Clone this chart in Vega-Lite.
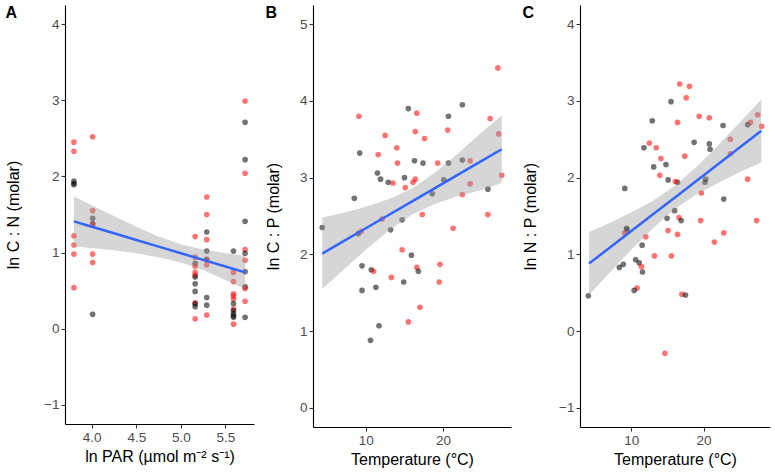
{
"$schema": "https://vega.github.io/schema/vega-lite/v6.json",
"padding": {"left": 5, "top": 5, "right": 3, "bottom": 0},
"spacing": 11,
"datasets": {
"pts": [
{"p":"A","x":3.8,"y":2.45,"g":"red"},{"p":"A","x":3.8,"y":2.33,"g":"red"},{"p":"A","x":3.8,"y":1.94,"g":"black"},{"p":"A","x":3.8,"y":1.91,"g":"black"},{"p":"A","x":3.8,"y":1.89,"g":"black"},{"p":"A","x":3.8,"y":1.22,"g":"red"},{"p":"A","x":3.8,"y":1.10,"g":"red"},{"p":"A","x":3.8,"y":0.98,"g":"red"},{"p":"A","x":3.8,"y":0.54,"g":"red"},
{"p":"A","x":4.01,"y":2.52,"g":"red"},{"p":"A","x":4.01,"y":1.55,"g":"red"},{"p":"A","x":4.01,"y":1.45,"g":"black"},{"p":"A","x":4.01,"y":1.38,"g":"black"},{"p":"A","x":4.01,"y":1.37,"g":"red"},{"p":"A","x":4.01,"y":0.98,"g":"red"},{"p":"A","x":4.01,"y":0.87,"g":"red"},{"p":"A","x":4.01,"y":0.19,"g":"black"},
{"p":"A","x":5.16,"y":1.21,"g":"red"},{"p":"A","x":5.16,"y":0.94,"g":"red"},{"p":"A","x":5.16,"y":0.86,"g":"black"},{"p":"A","x":5.16,"y":0.82,"g":"red"},{"p":"A","x":5.16,"y":0.74,"g":"red"},{"p":"A","x":5.16,"y":0.70,"g":"red"},{"p":"A","x":5.16,"y":0.68,"g":"black"},{"p":"A","x":5.16,"y":0.59,"g":"black"},{"p":"A","x":5.16,"y":0.49,"g":"black"},{"p":"A","x":5.16,"y":0.34,"g":"red"},{"p":"A","x":5.16,"y":0.33,"g":"black"},{"p":"A","x":5.16,"y":0.29,"g":"black"},{"p":"A","x":5.16,"y":0.13,"g":"red"},
{"p":"A","x":5.29,"y":1.73,"g":"red"},{"p":"A","x":5.29,"y":1.50,"g":"red"},{"p":"A","x":5.29,"y":1.27,"g":"black"},{"p":"A","x":5.29,"y":1.17,"g":"red"},{"p":"A","x":5.29,"y":1.02,"g":"black"},{"p":"A","x":5.29,"y":0.91,"g":"black"},{"p":"A","x":5.29,"y":0.90,"g":"red"},{"p":"A","x":5.29,"y":0.84,"g":"red"},{"p":"A","x":5.29,"y":0.41,"g":"black"},{"p":"A","x":5.29,"y":0.31,"g":"black"},{"p":"A","x":5.29,"y":0.18,"g":"red"},
{"p":"A","x":5.59,"y":1.02,"g":"black"},{"p":"A","x":5.59,"y":0.74,"g":"red"},{"p":"A","x":5.59,"y":0.62,"g":"red"},{"p":"A","x":5.59,"y":0.46,"g":"red"},{"p":"A","x":5.59,"y":0.43,"g":"red"},{"p":"A","x":5.59,"y":0.39,"g":"red"},{"p":"A","x":5.59,"y":0.33,"g":"black"},{"p":"A","x":5.59,"y":0.26,"g":"red"},{"p":"A","x":5.59,"y":0.24,"g":"black"},{"p":"A","x":5.59,"y":0.20,"g":"black"},{"p":"A","x":5.59,"y":0.17,"g":"black"},{"p":"A","x":5.59,"y":0.15,"g":"black"},{"p":"A","x":5.59,"y":0.06,"g":"red"},
{"p":"A","x":5.72,"y":2.99,"g":"red"},{"p":"A","x":5.72,"y":2.71,"g":"black"},{"p":"A","x":5.72,"y":2.22,"g":"black"},{"p":"A","x":5.72,"y":2.04,"g":"red"},{"p":"A","x":5.72,"y":1.41,"g":"black"},{"p":"A","x":5.72,"y":1.04,"g":"red"},{"p":"A","x":5.72,"y":0.99,"g":"black"},{"p":"A","x":5.72,"y":0.90,"g":"red"},{"p":"A","x":5.72,"y":0.75,"g":"black"},{"p":"A","x":5.72,"y":0.55,"g":"black"},{"p":"A","x":5.72,"y":0.53,"g":"red"},{"p":"A","x":5.72,"y":0.36,"g":"red"},{"p":"A","x":5.72,"y":0.15,"g":"black"},
{"p":"B","x":4.35,"y":2.35,"g":"black"},{"p":"B","x":27.1,"y":4.43,"g":"red"},{"p":"B","x":15.5,"y":3.90,"g":"black"},{"p":"B","x":16.6,"y":3.84,"g":"red"},{"p":"B","x":22.5,"y":3.95,"g":"black"},{"p":"B","x":9.1,"y":3.80,"g":"red"},{"p":"B","x":20.7,"y":3.80,"g":"black"},{"p":"B","x":26.1,"y":3.77,"g":"red"},{"p":"B","x":12.5,"y":3.55,"g":"red"},{"p":"B","x":16.4,"y":3.60,"g":"red"},{"p":"B","x":20.6,"y":3.62,"g":"red"},{"p":"B","x":17.6,"y":3.51,"g":"red"},{"p":"B","x":27.2,"y":3.57,"g":"red"},{"p":"B","x":14.0,"y":3.39,"g":"red"},{"p":"B","x":9.2,"y":3.32,"g":"black"},{"p":"B","x":11.6,"y":3.30,"g":"red"},{"p":"B","x":14.1,"y":3.19,"g":"red"},{"p":"B","x":16.3,"y":3.22,"g":"black"},{"p":"B","x":17.4,"y":3.19,"g":"black"},{"p":"B","x":19.3,"y":3.19,"g":"red"},{"p":"B","x":20.7,"y":3.19,"g":"black"},{"p":"B","x":22.5,"y":3.23,"g":"black"},{"p":"B","x":23.5,"y":3.22,"g":"red"},{"p":"B","x":27.6,"y":3.03,"g":"red"},{"p":"B","x":11.5,"y":3.06,"g":"black"},{"p":"B","x":11.9,"y":2.98,"g":"black"},{"p":"B","x":12.9,"y":2.94,"g":"black"},{"p":"B","x":13.5,"y":2.93,"g":"red"},{"p":"B","x":15.0,"y":3.00,"g":"black"},{"p":"B","x":15.1,"y":2.87,"g":"red"},{"p":"B","x":16.1,"y":2.94,"g":"red"},{"p":"B","x":16.4,"y":2.98,"g":"red"},{"p":"B","x":20.1,"y":2.97,"g":"black"},{"p":"B","x":18.6,"y":2.79,"g":"black"},{"p":"B","x":22.5,"y":2.78,"g":"red"},{"p":"B","x":23.5,"y":2.92,"g":"red"},{"p":"B","x":25.8,"y":2.85,"g":"black"},{"p":"B","x":8.5,"y":2.73,"g":"black"},{"p":"B","x":17.3,"y":2.52,"g":"red"},{"p":"B","x":25.8,"y":2.52,"g":"red"},{"p":"B","x":12.1,"y":2.46,"g":"red"},{"p":"B","x":14.7,"y":2.45,"g":"black"},{"p":"B","x":21.3,"y":2.34,"g":"red"},{"p":"B","x":13.2,"y":2.32,"g":"black"},{"p":"B","x":9.0,"y":2.27,"g":"black"},{"p":"B","x":9.4,"y":2.30,"g":"red"},{"p":"B","x":14.7,"y":2.06,"g":"red"},{"p":"B","x":15.9,"y":1.99,"g":"black"},{"p":"B","x":9.5,"y":1.85,"g":"black"},{"p":"B","x":10.7,"y":1.80,"g":"black"},{"p":"B","x":11.0,"y":1.78,"g":"red"},{"p":"B","x":16.6,"y":1.83,"g":"red"},{"p":"B","x":16.8,"y":1.78,"g":"black"},{"p":"B","x":19.6,"y":1.87,"g":"red"},{"p":"B","x":13.3,"y":1.70,"g":"red"},{"p":"B","x":14.9,"y":1.64,"g":"black"},{"p":"B","x":19.5,"y":1.64,"g":"red"},{"p":"B","x":9.5,"y":1.53,"g":"black"},{"p":"B","x":11.3,"y":1.57,"g":"black"},{"p":"B","x":17.0,"y":1.31,"g":"red"},{"p":"B","x":15.5,"y":1.12,"g":"red"},{"p":"B","x":11.7,"y":1.07,"g":"black"},{"p":"B","x":10.6,"y":0.88,"g":"black"},
{"p":"C","x":16.7,"y":3.22,"g":"red"},{"p":"C","x":18.05,"y":3.19,"g":"red"},{"p":"C","x":17.6,"y":3.04,"g":"red"},{"p":"C","x":15.5,"y":2.99,"g":"black"},{"p":"C","x":12.9,"y":2.74,"g":"black"},{"p":"C","x":16.4,"y":2.72,"g":"red"},{"p":"C","x":19.4,"y":2.80,"g":"red"},{"p":"C","x":20.8,"y":2.78,"g":"red"},{"p":"C","x":22.7,"y":2.68,"g":"black"},{"p":"C","x":26.1,"y":2.69,"g":"black"},{"p":"C","x":26.5,"y":2.72,"g":"red"},{"p":"C","x":27.5,"y":2.82,"g":"red"},{"p":"C","x":28.05,"y":2.67,"g":"red"},{"p":"C","x":11.75,"y":2.39,"g":"black"},{"p":"C","x":12.5,"y":2.45,"g":"red"},{"p":"C","x":13.45,"y":2.39,"g":"red"},{"p":"C","x":14.1,"y":2.25,"g":"red"},{"p":"C","x":13.1,"y":2.14,"g":"black"},{"p":"C","x":14.8,"y":2.17,"g":"black"},{"p":"C","x":13.95,"y":2.03,"g":"red"},{"p":"C","x":15.1,"y":1.97,"g":"black"},{"p":"C","x":16.4,"y":1.94,"g":"black"},{"p":"C","x":16.1,"y":1.95,"g":"red"},{"p":"C","x":17.4,"y":2.28,"g":"red"},{"p":"C","x":20.8,"y":2.44,"g":"black"},{"p":"C","x":20.9,"y":2.37,"g":"black"},{"p":"C","x":18.7,"y":2.46,"g":"black"},{"p":"C","x":23.7,"y":2.50,"g":"red"},{"p":"C","x":23.7,"y":2.31,"g":"red"},{"p":"C","x":20.2,"y":1.94,"g":"black"},{"p":"C","x":20.3,"y":1.98,"g":"black"},{"p":"C","x":26.1,"y":1.98,"g":"red"},{"p":"C","x":19.7,"y":1.80,"g":"red"},{"p":"C","x":22.8,"y":1.72,"g":"black"},{"p":"C","x":9.1,"y":1.86,"g":"black"},{"p":"C","x":16.0,"y":1.57,"g":"black"},{"p":"C","x":14.95,"y":1.47,"g":"black"},{"p":"C","x":16.6,"y":1.48,"g":"red"},{"p":"C","x":16.9,"y":1.44,"g":"black"},{"p":"C","x":19.6,"y":1.44,"g":"red"},{"p":"C","x":27.35,"y":1.44,"g":"red"},{"p":"C","x":9.35,"y":1.34,"g":"black"},{"p":"C","x":9.4,"y":1.32,"g":"black"},{"p":"C","x":9.1,"y":1.28,"g":"red"},{"p":"C","x":15.1,"y":1.31,"g":"red"},{"p":"C","x":16.4,"y":1.26,"g":"red"},{"p":"C","x":22.8,"y":1.28,"g":"red"},{"p":"C","x":12.0,"y":1.23,"g":"red"},{"p":"C","x":21.5,"y":1.16,"g":"red"},{"p":"C","x":11.5,"y":1.12,"g":"black"},{"p":"C","x":13.2,"y":0.98,"g":"red"},{"p":"C","x":15.55,"y":0.98,"g":"red"},{"p":"C","x":8.35,"y":0.83,"g":"black"},{"p":"C","x":8.9,"y":0.87,"g":"black"},{"p":"C","x":10.6,"y":0.93,"g":"black"},{"p":"C","x":11.1,"y":0.89,"g":"black"},{"p":"C","x":11.4,"y":0.84,"g":"red"},{"p":"C","x":11.55,"y":0.77,"g":"black"},{"p":"C","x":10.8,"y":0.56,"g":"red"},{"p":"C","x":10.4,"y":0.53,"g":"black"},{"p":"C","x":17.0,"y":0.48,"g":"red"},{"p":"C","x":17.5,"y":0.47,"g":"black"},{"p":"C","x":4.05,"y":0.46,"g":"black"},{"p":"C","x":14.65,"y":-0.29,"g":"red"}
],
"fit": [
{"p":"A","x":3.8,"fit":1.41,"lo":1.08,"hi":1.74},{"p":"A","x":4.0,"fit":1.34,"lo":1.06,"hi":1.62},{"p":"A","x":4.25,"fit":1.253,"lo":1.03,"hi":1.48},{"p":"A","x":4.5,"fit":1.166,"lo":0.99,"hi":1.34},{"p":"A","x":4.75,"fit":1.078,"lo":0.94,"hi":1.21},{"p":"A","x":5.0,"fit":0.991,"lo":0.87,"hi":1.11},{"p":"A","x":5.25,"fit":0.904,"lo":0.77,"hi":1.04},{"p":"A","x":5.5,"fit":0.817,"lo":0.64,"hi":0.99},{"p":"A","x":5.72,"fit":0.74,"lo":0.52,"hi":0.96},
{"p":"B","x":4.35,"fit":2.01,"lo":1.55,"hi":2.48},{"p":"B","x":7,"fit":2.165,"lo":1.79,"hi":2.54},{"p":"B","x":10,"fit":2.34,"lo":2.06,"hi":2.62},{"p":"B","x":13,"fit":2.516,"lo":2.31,"hi":2.72},{"p":"B","x":16,"fit":2.691,"lo":2.52,"hi":2.86},{"p":"B","x":19,"fit":2.867,"lo":2.66,"hi":3.07},{"p":"B","x":22,"fit":3.042,"lo":2.76,"hi":3.32},{"p":"B","x":25,"fit":3.218,"lo":2.84,"hi":3.59},{"p":"B","x":27.6,"fit":3.37,"lo":2.93,"hi":3.81},
{"p":"C","x":4.15,"fit":0.88,"lo":0.47,"hi":1.29},{"p":"C","x":7,"fit":1.087,"lo":0.76,"hi":1.41},{"p":"C","x":10,"fit":1.304,"lo":1.06,"hi":1.55},{"p":"C","x":13,"fit":1.522,"lo":1.34,"hi":1.70},{"p":"C","x":16,"fit":1.739,"lo":1.59,"hi":1.89},{"p":"C","x":19,"fit":1.957,"lo":1.78,"hi":2.14},{"p":"C","x":22,"fit":2.174,"lo":1.93,"hi":2.42},{"p":"C","x":25,"fit":2.392,"lo":2.07,"hi":2.72},{"p":"C","x":28,"fit":2.61,"lo":2.20,"hi":3.02}
]
},
"hconcat": [
{
"width": 189, "height": 419,
"title": {"text": "A"},
"layer": [
{"data": {"name": "pts"}, "transform": [{"filter": "datum.p == 'A'"}],
 "mark": {"type": "circle", "size": 32, "opacity": 0.55},
 "encoding": {
  "x": {"field": "x", "type": "quantitative", "title": "ln PAR (µmol m⁻² s⁻¹)", "scale": {"domain": [3.7, 5.82], "nice": false, "zero": false}, "axis": {"values": [4.0, 4.5, 5.0, 5.5], "format": ".1f"}},
  "y": {"field": "y", "type": "quantitative", "title": "ln C : N (molar)", "scale": {"domain": [-1.25, 4.25], "nice": false, "zero": false}, "axis": {"values": [-1, 0, 1, 2, 3, 4], "format": "d", "titlePadding": 22}},
  "color": {"field": "g", "type": "nominal", "scale": {"domain": ["black", "red"], "range": ["#000000", "#FF0000"]}, "legend": null}}},
{"data": {"name": "fit"}, "transform": [{"filter": "datum.p == 'A'"}],
 "mark": {"type": "area", "color": "#999999", "opacity": 0.4},
 "encoding": {"x": {"field": "x", "type": "quantitative", "title": "ln PAR (µmol m⁻² s⁻¹)"}, "y": {"field": "lo", "type": "quantitative", "title": "ln C : N (molar)"}, "y2": {"field": "hi"}}},
{"data": {"name": "fit"}, "transform": [{"filter": "datum.p == 'A'"}],
 "mark": {"type": "line", "color": "#3366FF", "strokeWidth": 2.5},
 "encoding": {"x": {"field": "x", "type": "quantitative", "title": "ln PAR (µmol m⁻² s⁻¹)"}, "y": {"field": "fit", "type": "quantitative", "title": "ln C : N (molar)"}}}
]
},
{
"width": 198, "height": 422,
"title": {"text": "B"},
"layer": [
{"data": {"name": "pts"}, "transform": [{"filter": "datum.p == 'B'"}],
 "mark": {"type": "circle", "size": 32, "opacity": 0.55},
 "encoding": {
  "x": {"field": "x", "type": "quantitative", "title": "Temperature (°C)", "scale": {"domain": [3.15, 28.8], "nice": false, "zero": false}, "axis": {"values": [10, 20]}},
  "y": {"field": "y", "type": "quantitative", "title": "ln C : P (molar)", "scale": {"domain": [-0.25, 5.25], "nice": false, "zero": false}, "axis": {"values": [0, 1, 2, 3, 4, 5], "format": "d"}},
  "color": {"field": "g", "type": "nominal", "scale": {"domain": ["black", "red"], "range": ["#000000", "#FF0000"]}, "legend": null}}},
{"data": {"name": "fit"}, "transform": [{"filter": "datum.p == 'B'"}],
 "mark": {"type": "area", "color": "#999999", "opacity": 0.4},
 "encoding": {"x": {"field": "x", "type": "quantitative", "title": "Temperature (°C)"}, "y": {"field": "lo", "type": "quantitative", "title": "ln C : P (molar)"}, "y2": {"field": "hi"}}},
{"data": {"name": "fit"}, "transform": [{"filter": "datum.p == 'B'"}],
 "mark": {"type": "line", "color": "#3366FF", "strokeWidth": 2.5},
 "encoding": {"x": {"field": "x", "type": "quantitative", "title": "Temperature (°C)"}, "y": {"field": "fit", "type": "quantitative", "title": "ln C : P (molar)"}}}
]
},
{
"width": 190, "height": 422,
"title": {"text": "C"},
"layer": [
{"data": {"name": "pts"}, "transform": [{"filter": "datum.p == 'C'"}],
 "mark": {"type": "circle", "size": 32, "opacity": 0.55},
 "encoding": {
  "x": {"field": "x", "type": "quantitative", "title": "Temperature (°C)", "scale": {"domain": [2.9, 29.2], "nice": false, "zero": false}, "axis": {"values": [10, 20]}},
  "y": {"field": "y", "type": "quantitative", "title": "ln N : P (molar)", "scale": {"domain": [-1.25, 4.25], "nice": false, "zero": false}, "axis": {"values": [-1, 0, 1, 2, 3, 4], "format": "d", "titlePadding": 20}},
  "color": {"field": "g", "type": "nominal", "scale": {"domain": ["black", "red"], "range": ["#000000", "#FF0000"]}, "legend": null}}},
{"data": {"name": "fit"}, "transform": [{"filter": "datum.p == 'C'"}],
 "mark": {"type": "area", "color": "#999999", "opacity": 0.4},
 "encoding": {"x": {"field": "x", "type": "quantitative", "title": "Temperature (°C)"}, "y": {"field": "lo", "type": "quantitative", "title": "ln N : P (molar)"}, "y2": {"field": "hi"}}},
{"data": {"name": "fit"}, "transform": [{"filter": "datum.p == 'C'"}],
 "mark": {"type": "line", "color": "#3366FF", "strokeWidth": 2.5},
 "encoding": {"x": {"field": "x", "type": "quantitative", "title": "Temperature (°C)"}, "y": {"field": "fit", "type": "quantitative", "title": "ln N : P (molar)"}}}
]
}
],
"config": {
 "view": {"stroke": null},
 "font": "Liberation Sans",
 "title": {"anchor": "start", "frame": "bounds", "fontSize": 16, "fontWeight": "bold", "color": "#000000", "offset": -16, "font": "Liberation Sans"},
 "axis": {"grid": false, "domainColor": "#000000", "domainWidth": 1.1, "tickColor": "#333333", "tickSize": 4, "tickWidth": 1.1, "labelColor": "#4D4D4D", "labelFont": "Liberation Sans", "labelFontSize": 13.5, "labelPadding": 2, "titleFont": "Liberation Sans", "titleFontSize": 16, "titleFontWeight": "normal", "titleColor": "#000000"},
 "axisY": {"titlePadding": 18},
 "axisX": {"titlePadding": 5}
}
}
